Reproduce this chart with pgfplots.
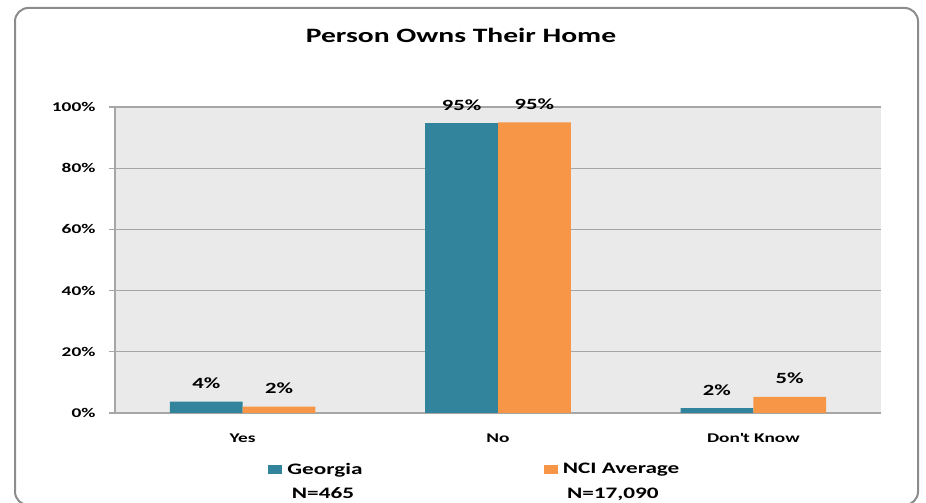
\documentclass[border=0pt]{standalone}
\usepackage{pgfplots}
\pgfplotsset{compat=1.18}
\usepackage{pgfplotstable}
\usepackage{fontspec}
\setmainfont{Carlito}[FakeStretch=1.45]

\definecolor{georgia}{HTML}{31849B}
\definecolor{nci}{HTML}{F79646}
\definecolor{plotbg}{HTML}{EAEAEA}
\definecolor{gridgray}{HTML}{A6A6A6}
\definecolor{framegray}{HTML}{8C8C8C}

% 0 = Yes, 1 = No, 2 = Don't Know
\pgfplotstableread{
x  georgia  nci
0  3.7      2.1
1  94.7     95.0
2  1.6      5.3
}\homedata

\begin{document}
\begin{tikzpicture}
\useasboundingbox (0,0) rectangle (694.5pt,377.25pt);
\begin{scope}
  \clip (0,0) rectangle (694.5pt,377.25pt);
  \draw[framegray, line width=1.5pt, rounded corners=10pt]
    (11.25pt,-1.5pt) rectangle (688.5pt,371.25pt);
\end{scope}
\node[anchor=base, font=\bfseries\fontsize{15.3}{18}\selectfont]
  at (345.75pt,345pt) {Person Owns Their Home};

\begin{axis}[
    at={(86.25pt,67.5pt)}, anchor=south west,
    scale only axis,
    width=574.5pt, height=229.5pt,
    clip=false,
    ybar=0pt, bar width=0.285,
    xmin=-0.5, xmax=2.5,
    ymin=0, ymax=100,
    axis x line*=bottom,
    axis y line*=left,
    axis line style={gridgray, line width=0.9pt, -},
    axis background/.style={fill=plotbg},
    /pgf/number format/assume math mode=true,
    xtick={0,1,2},
    xticklabels={Yes,No,Don\textquotesingle t Know},
    minor xtick={-0.5,0.5,1.5,2.5},
    xtick style={draw=none},
    minor tick length=3pt,
    major tick length=4.5pt,
    tick align=outside,
    tick style={gridgray, line width=0.9pt},
    minor tick style={gridgray, line width=0.9pt},
    ytick={0,20,...,100},
    yticklabel={\pgfmathprintnumber{\tick}\%},
    ymajorgrids,
    major grid style={gridgray, line width=0.9pt},
    xticklabel style={font=\bfseries\fontsize{10}{12}\selectfont, anchor=base, yshift=-17.5pt},
    yticklabel style={font=\bfseries\fontsize{10}{12}\selectfont, anchor=east, inner sep=0pt, xshift=-10pt},
    nodes near coords={\pgfmathprintnumber[fixed,precision=0]{\pgfplotspointmeta}\%},
    every node near coord/.append style={font=\bfseries\fontsize{11.7}{13}\selectfont,
      anchor=base, yshift=9.75pt, inner sep=0pt, black},
    legend columns=2,
    legend style={at={(axis description cs:0.2,-0.185)}, anchor=west,
      draw=none, fill=none, inner sep=0pt,
      font=\bfseries\fontsize{12}{14}\selectfont,
      nodes={inner sep=0pt},
      /tikz/every odd column/.append style={column sep=3.75pt},
      /tikz/every even column/.append style={column sep=136pt}},
  ]
  \addplot[fill=georgia, draw=none,
    legend image code/.code={\fill[georgia] (0pt,-3.375pt) rectangle (10.5pt,3.375pt);}]
    table[x=x, y=georgia] {\homedata};
  \addlegendentry{Georgia}
  \addplot[fill=nci, draw=none,
    legend image code/.code={\fill[nci] (0pt,-3.375pt) rectangle (10.5pt,3.375pt);}]
    table[x=x, y=nci] {\homedata};
  \addlegendentry{NCI Average}
  \node[anchor=base, font=\bfseries\fontsize{12}{14}\selectfont]
    at (axis description cs:0.2715,-0.281) {N=465};
  \node[anchor=base, font=\bfseries\fontsize{12}{14}\selectfont]
    at (axis description cs:0.650,-0.281) {N=17,090};
\end{axis}
\end{tikzpicture}
\end{document}
